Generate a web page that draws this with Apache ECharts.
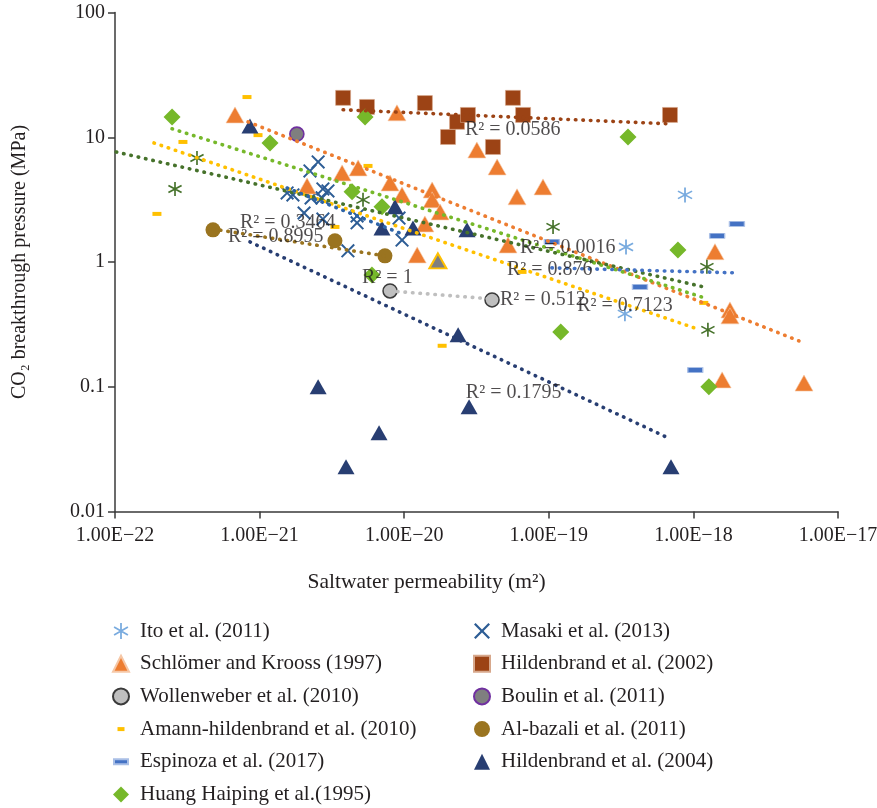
<!DOCTYPE html>
<html>
<head>
<meta charset="utf-8">
<script src="https://cdn.jsdelivr.net/npm/echarts@6/dist/echarts.min.js"></script>
<style>
html,body{margin:0;padding:0;background:#fff;}
#chart{width:877px;height:808px;}
</style>
</head>
<body>
<div id="chart"></div>
<script>
// ---- data (permeability m², pressure MPa) ----
const itoData = [[3.42e-19,1.32],[8.75e-19,3.45],[3.36e-19,0.384]];
const masakiData = [[2.54e-21,6.34],[2.23e-21,5.37],[1.55e-21,3.58],[1.70e-21,3.45],[2.74e-21,3.85],[2.97e-21,3.71],[2.70e-21,3.26],[2.27e-21,3.26],[2.03e-21,2.47],[2.74e-21,2.21],[4.72e-21,2.34],[4.72e-21,2.06],[4.08e-21,1.23],[9.66e-21,1.50],[9.21e-21,2.25]];
const schlomerData = [[6.76e-22,15.1],[2.13e-21,4.07],[3.72e-21,5.18],[4.80e-21,5.68],[8.91e-21,15.7],[7.98e-21,4.30],[9.66e-21,3.45],[1.56e-20,3.78],[1.56e-20,3.15],[1.77e-20,2.52],[1.39e-20,2.02],[1.23e-20,1.14],[3.18e-20,7.91],[4.39e-20,5.78],[6.03e-20,3.33],[9.12e-20,4.00],[5.22e-20,1.37],[1.41e-18,1.21],[1.79e-18,0.413],[1.79e-18,0.370],[1.58e-18,0.1135],[5.82e-18,0.107]];
const hild2002Data = [[3.78e-21,20.7],[5.53e-21,17.5],[1.39e-20,18.8],[2.01e-20,10.05],[2.32e-20,13.3],[2.76e-20,15.1],[4.11e-20,8.36],[5.65e-20,20.7],[6.64e-20,15.1],[6.89e-19,15.1]];
const wollenweberData = [[7.98e-21,0.586],[4.05e-20,0.497]];
const boulinData = [[1.81e-21,10.6]];
const amannData = [[8.18e-22,21.0],[2.95e-22,9.17],[9.75e-22,10.4],[1.95e-22,2.43],[5.62e-21,5.89],[3.32e-21,1.91],[1.83e-20,0.213],[6.53e-20,0.833],[1.18e-18,0.470]];
const albazaliData = [[4.76e-22,1.81],[3.32e-21,1.48],[7.36e-21,1.12]];
const espinozaData = [[1.05e-19,1.45],[4.27e-19,0.631],[1.03e-18,0.136],[1.46e-18,1.62],[2.00e-18,2.02]];
const hild2004Data = [[8.58e-22,12.3],[8.64e-21,2.77],[7.02e-21,1.87],[1.15e-20,1.87],[2.72e-20,1.81],[2.36e-20,0.261],[2.54e-21,0.0998],[6.70e-21,0.0428],[3.96e-21,0.0228],[2.81e-20,0.069],[7.00e-19,0.0228]];
const huangData = [[2.48e-22,14.5],[1.18e-21,9.0],[5.36e-21,14.5],[4.36e-21,3.65],[7.02e-21,2.77],[5.98e-21,0.788],[1.21e-19,0.275],[3.53e-19,10.05],[7.82e-19,1.25],[1.28e-18,0.0998]];
const extraStarData = [[2.60e-22,3.85],[3.69e-22,6.82],[5.19e-21,3.15],[1.07e-19,1.91],[1.24e-18,0.914],[1.26e-18,0.286]];
const extraTriangleData = [[1.71e-20,1.02]];

// ---- power-law trendlines (end points) ----
const trendHild2002 = [[3.78e-21,16.6],[6.89e-19,12.8]];
const trendSchlomer = [[8.32e-22,13.3],[5.37e-18,0.233]];
const trendHuang = [[2.48e-22,11.7],[1.20e-18,0.515]];
const trendAmann = [[1.86e-22,9.0],[1.11e-18,0.286]];
const trendExtraStar = [[1.02e-22,7.62],[1.18e-18,0.631]];
const trendEspinoza = [[1.05e-19,0.897],[1.97e-18,0.818]];
const trendMasaki = [[1.55e-21,3.92],[9.66e-21,1.68]];
const trendHild2004 = [[8.58e-22,1.45],[6.89e-19,0.0383]];
const trendWollenweber = [[7.98e-21,0.586],[4.05e-20,0.506]];
const trendAlbazali = [[4.76e-22,1.84],[7.36e-21,1.12]];

// ---- R² annotations ----
const r2Texts = ['R² = 0.0586','R² = 0.3464','R² = 0.8995','R² = 1','R² = 0.512','R² = 0.0016','R² = 0.876','R² = 0.7123','R² = 0.1795'];
const r2Anchors = [[2.63e-20,11.4],[7.32e-22,2.06],[6.04e-22,1.59],[5.11e-21,0.746],[4.60e-20,0.497],[6.32e-20,1.30],[5.14e-20,0.865],[1.57e-19,0.449],[2.67e-20,0.0893]];

const xTicks = ['1.00E−22','1.00E−21','1.00E−20','1.00E−19','1.00E−18','1.00E−17'];
const yTicks = ['0.01','0.1','1','10','100'];

const legendLeft = ['Ito et al. (2011)','Schlömer and Krooss (1997)','Wollenweber et al. (2010)','Amann-hildenbrand et al. (2010)','Espinoza et al. (2017)','Huang Haiping et al.(1995)'];
const legendRight = ['Masaki et al. (2013)','Hildenbrand et al. (2002)','Boulin et al. (2011)','Al-bazali et al. (2011)','Hildenbrand et al. (2004)'];

// The x axis is plotted in units of 1e-22 m² (ECharts' log scale rounds tiny numbers to 0);
// tick labels are still printed in m².
const X_UNIT = 1e-22;
const toUnit = arr => arr.map(p => [p[0] / X_UNIT, p[1]]);

// ---- symbols ----
const X_PATH = 'path://M0,2 L2,0 L10,8 L18,0 L20,2 L12,10 L20,18 L18,20 L10,12 L2,20 L0,18 L8,10 Z';
const STAR_PATH = 'path://M8.9,0 L11.1,0 L11.1,20 L8.9,20 Z M1.89,4.05 L19.21,14.05 L18.11,15.95 L0.79,5.95 Z M0.79,14.05 L18.11,4.05 L19.21,5.95 L1.89,15.95 Z';
const ICON_SMALL_DASH = 'path://M0,0 L0,0 M4.5,6 H11.5 V10 H4.5 Z M16,16 L16,16';
const ICON_LONG_DASH = 'path://M0,0 L0,0 M1,5.5 H15 V10.5 H1 Z M16,16 L16,16';
const FONT = 'Liberation Serif';
const TXT = '#231f20';

function sc(name, data, symbol, size, color, itemStyle) {
  return {
    type: 'scatter', name: name, data: toUnit(data), symbol: symbol, symbolSize: size,
    itemStyle: Object.assign({color: color, opacity: 1}, itemStyle || {}),
    emphasis: {disabled: true},
    z: 2, animation: false
  };
}
function trend(data, color) {
  return {
    type: 'line', name: '_trend', data: toUnit(data), showSymbol: false, symbol: 'none',
    lineStyle: {color: color, width: 3.6, type: [0.5, 7], cap: 'round', opacity: 1},
    silent: true, z: 3, animation: false
  };
}

const series = [
  sc('Ito et al. (2011)', itoData, STAR_PATH, 15, '#79abdf'),
  sc('Masaki et al. (2013)', masakiData, X_PATH, 14, '#2d5d95'),
  sc('Schlömer and Krooss (1997)', schlomerData, 'triangle', [18,16], '#ed7d31', {borderColor:'#f6c7a6', borderWidth:0.6}),
  sc('Hildenbrand et al. (2002)', hild2002Data, 'rect', 15, '#9c4315', {borderColor:'#d7a88c', borderWidth:0.6}),
  sc('Wollenweber et al. (2010)', wollenweberData, 'circle', 14, '#bfbfbf', {borderColor:'#3a3a3a', borderWidth:1.5}),
  sc('Boulin et al. (2011)', boulinData, 'circle', 14, '#7f7f7f', {borderColor:'#7030a0', borderWidth:1.6}),
  sc('Amann-hildenbrand et al. (2010)', amannData, 'rect', [9,4], '#ffc000'),
  sc('Al-bazali et al. (2011)', albazaliData, 'circle', 15, '#9a7420'),
  sc('Espinoza et al. (2017)', espinozaData, 'rect', [15,5], '#4472c4', {borderColor:'#a9bfe6', borderWidth:0.8}),
  sc('Hildenbrand et al. (2004)', hild2004Data, 'triangle', [17,15], '#283e72'),
  sc('Huang Haiping et al.(1995)', huangData, 'diamond', 17, '#76b82a'),
  sc('Unlisted star series', extraStarData, STAR_PATH, 14, '#46722b'),
  sc('Unlisted triangle series', extraTriangleData, 'triangle', [17,15], '#7f7f7f', {borderColor:'#ffc000', borderWidth:2}),
  trend(trendHild2002, '#9c4315'),
  trend(trendSchlomer, '#ed7d31'),
  trend(trendHuang, '#76b82a'),
  trend(trendAmann, '#ffc000'),
  trend(trendExtraStar, '#46722b'),
  trend(trendEspinoza, '#4472c4'),
  trend(trendMasaki, '#2e64a8'),
  trend(trendHild2004, '#283e72'),
  trend(trendWollenweber, '#bfbfbf'),
  trend(trendAlbazali, '#9a7420'),
  {
    type: 'scatter', name: '_r2', silent: true, z: 5, animation: false,
    symbol: 'circle', symbolSize: 0,
    data: toUnit(r2Anchors).map((p, i) => ({value: p, label: {formatter: r2Texts[i]}})),
    label: {show: true, position: 'right', distance: 0, fontFamily: FONT, fontSize: 20, color: TXT}
  }
];

const legendCommon = {
  orient: 'vertical', top: 620, bottom: 0, padding: 0, itemWidth: 16, itemHeight: 16, itemGap: 10.7,
  selectedMode: false,
  textStyle: {fontFamily: FONT, fontSize: 21, color: TXT, lineHeight: 22, padding: [0, 0, 0, 6]}
};

const chart = echarts.init(document.getElementById('chart'), null, {renderer: 'canvas'});
chart.setOption({
  backgroundColor: '#fff',
  animation: false,
  grid: {left: 115, right: 39, top: 12.5, bottom: 296.5, containLabel: false, outerBoundsMode: 'none'},
  xAxis: {
    type: 'log', logBase: 10, min: 1, max: 1e5,
    name: 'Saltwater permeability (m²)', nameLocation: 'middle', nameGap: 60,
    nameTextStyle: {fontFamily: FONT, fontSize: 21.5, color: TXT, padding: [0, 100, 0, 0]},
    axisLine: {show: true, onZero: false, lineStyle: {color: '#3a3a3a', width: 1.5}},
    axisTick: {show: true, length: 7, inside: false, lineStyle: {color: '#3a3a3a', width: 1.5}},
    axisLabel: {
      fontFamily: FONT, fontSize: 20, color: TXT, margin: 14,
      formatter: function (v) {
        const i = Math.round(Math.log10(v));
        return xTicks[i] !== undefined ? xTicks[i] : '';
      }
    },
    splitLine: {show: false}, minorTick: {show: false}
  },
  yAxis: {
    type: 'log', logBase: 10, min: 0.01, max: 100,
    name: 'CO₂ breakthrough pressure (MPa)', nameLocation: 'middle', nameGap: 85,
    nameTextStyle: {fontFamily: FONT, fontSize: 20, color: TXT},
    axisLine: {show: true, onZero: false, lineStyle: {color: '#3a3a3a', width: 1.5}},
    axisTick: {show: true, length: 7, inside: false, lineStyle: {color: '#3a3a3a', width: 1.5}},
    axisLabel: {
      fontFamily: FONT, fontSize: 20, color: TXT, margin: 10,
      formatter: function (v) {
        const i = Math.round(Math.log10(v)) + 2;
        return yTicks[i] !== undefined ? yTicks[i] : '';
      }
    },
    splitLine: {show: false}
  },
  legend: [
    Object.assign({left: 112, data: legendLeft.map(n => n === 'Amann-hildenbrand et al. (2010)' ? {name: n, icon: ICON_SMALL_DASH} : (n === 'Espinoza et al. (2017)' ? {name: n, icon: ICON_LONG_DASH} : n))}, legendCommon),
    Object.assign({left: 473, data: legendRight}, legendCommon)
  ],
  series: series
});
</script>
</body>
</html>
